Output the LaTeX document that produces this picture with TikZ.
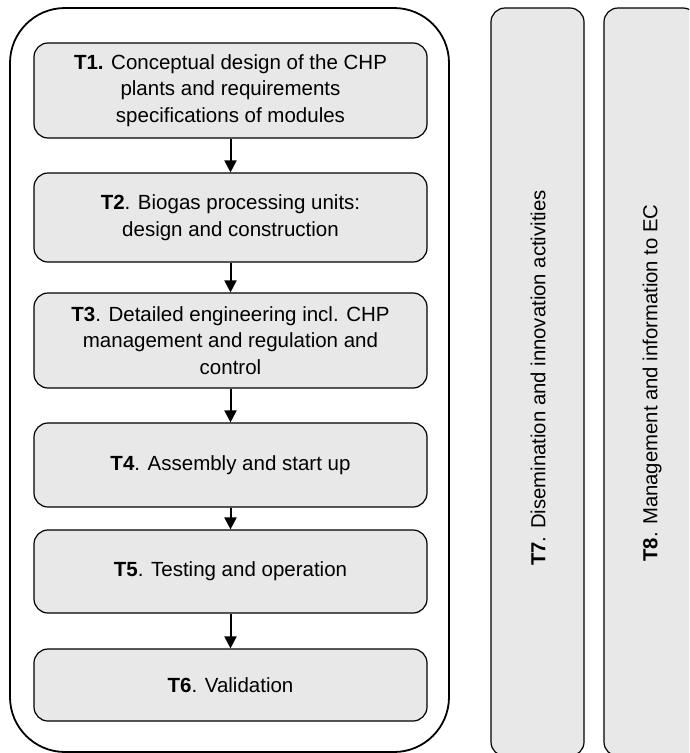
\documentclass[tikz,border=0pt]{standalone}
\usepackage{fontspec}
\setmainfont{Liberation Sans}
\usetikzlibrary{arrows.meta}
\definecolor{boxgray}{HTML}{E8E8E8}
\tikzset{
  task/.style={draw=black, line width=1.2pt, fill=boxgray, rounded corners=14pt,
    minimum width=393pt, align=center, inner sep=0pt,
    font=\fontsize{20.5}{26.5}\selectfont},
  bar/.style={draw=black, line width=1.2pt, fill=boxgray, rounded corners=14pt,
    minimum width=93pt, minimum height=748pt, inner sep=0pt},
  vlabel/.style={rotate=90, font=\fontsize{20.3}{26}\selectfont, inner sep=0pt},
  flow/.style={line width=2pt, -{Triangle[length=12pt,width=12pt]}},
}
\begin{document}
\begin{tikzpicture}[x=1pt, y=-1pt]
  \useasboundingbox (0,0) rectangle (689,753);
  \clip (0,0) rectangle (689,753);

  % frame around the sequential work packages
  \draw[line width=1.8pt, rounded corners=55pt] (10,8) rectangle (449,752);

  % sequential tasks
  \node[task, minimum height=95pt] (t1) at (230.5,90.5)
    {\textbf{T1.} Conceptual design of the CHP\\plants and requirements\\specifications of modules};
  \node[task, minimum height=89pt] (t2) at (230.5,217.5)
    {\textbf{T2}. Biogas processing units:\\design and construction};
  \node[task, minimum height=95pt] (t3) at (230.5,340.5)
    {\textbf{T3}. Detailed engineering incl. CHP\\management and regulation and\\control};
  \node[task, minimum height=84pt] (t4) at (230.5,465)
    {\textbf{T4}. Assembly and start up};
  \node[task, minimum height=83pt] (t5) at (230.5,571.5)
    {\textbf{T5}. Testing and operation};
  \node[task, minimum height=72pt] (t6) at (230.5,685)
    {\textbf{T6}. Validation};

  \draw[flow] (t1) -- (t2);
  \draw[flow] (t2) -- (t3);
  \draw[flow] (t3) -- (t4);
  \draw[flow] (t4) -- (t5);
  \draw[flow] (t5) -- (t6);

  % transversal tasks
  \node[bar] (t7) at (537.5,382) {};
  \node[vlabel] (l7) at (538,378) {\textbf{T7}. Disemination and innovation activities};
  \node[bar] (t8) at (650.5,382) {};
  \node[vlabel] (l8) at (652,383) {\textbf{T8}. Management and information to EC};
\end{tikzpicture}
\end{document}
